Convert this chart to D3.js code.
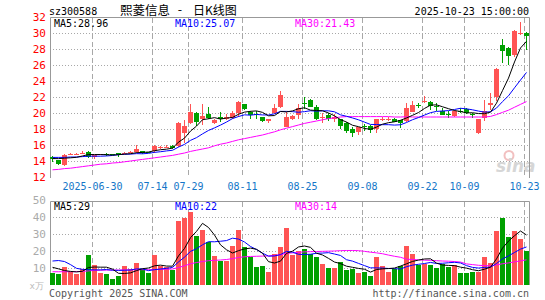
<!DOCTYPE html>
<html lang="zh">
<head>
    <meta charset="UTF-8">
    <title>熙菱信息 - 日K线图</title>
    <script src="https://d3js.org/d3.v7.min.js"></script>
    <style>
        body { margin: 0; background: #fff; }
        svg { display: block; }
        text { font-family: "DejaVu Sans Mono", monospace; font-size: 10px; }
    </style>
</head>
<body>
<div id="chart"></div>
<script>
    // trading days (2025), 07-15..07-21 missing (suspension)
    const dates = ["06-19","06-20","06-23","06-24","06-25","06-26","06-27","06-30","07-01","07-02",
        "07-03","07-04","07-07","07-08","07-09","07-10","07-11","07-14","07-22","07-23",
        "07-24","07-25","07-28","07-29","07-30","07-31","08-01","08-04","08-05","08-06",
        "08-07","08-08","08-11","08-12","08-13","08-14","08-15","08-18","08-19","08-20",
        "08-21","08-22","08-25","08-26","08-27","08-28","08-29","09-01","09-02","09-03",
        "09-04","09-05","09-08","09-09","09-10","09-11","09-12","09-15","09-16","09-17",
        "09-18","09-19","09-22","09-23","09-24","09-25","09-26","09-29","09-30","10-09",
        "10-10","10-13","10-14","10-15","10-16","10-17","10-20","10-21","10-22","10-23"];

    const open = [14.45,14.1,13.5,14.8,14.85,15.0,15.1,14.55,14.8,14.85,
        14.85,14.95,14.95,15.05,15.15,15.2,15.1,15.2,15.65,15.75,
        15.9,15.9,17.45,18.8,20.05,19.2,19.9,18.7,19.45,19.2,
        19.35,19.95,21.1,20.15,19.85,19.45,19.05,19.95,20.7,18.3,
        19.2,19.7,21.25,21.6,20.8,19.4,19.8,19.2,19.3,18.8,
        17.95,17.6,18.4,18.4,17.95,19.2,19.2,19.3,19.1,19.0,
        20.15,21.05,21.4,21.4,20.9,20.3,19.85,19.6,20.3,20.55,
        19.9,17.5,19.4,20.95,21.95,28.45,28.1,27.3,29.95,29.95];
    const high = [14.6,14.15,14.9,14.95,15.0,15.3,15.3,14.75,14.9,15.0,
        14.9,14.95,15.15,15.2,16.0,15.25,15.15,15.95,15.9,16.05,
        15.95,18.85,19.1,21.1,20.1,21.1,20.7,19.3,20.15,19.9,
        20.3,21.5,21.1,20.3,20.25,19.5,19.3,21.1,22.8,20.15,
        19.8,21.1,22.05,21.8,21.0,20.0,19.95,19.9,19.3,18.85,
        18.3,18.3,18.6,18.45,19.3,19.5,19.45,19.35,19.15,21.3,
        21.5,21.3,22.1,21.45,21.2,20.6,20.25,20.35,20.6,20.6,
        20.05,19.3,21.65,22.5,25.6,29.3,28.3,30.35,31.4,30.1];
    const low = [13.9,13.45,13.4,14.7,14.75,14.9,14.35,14.3,14.75,14.65,
        14.7,14.45,14.9,15.0,14.95,14.9,14.95,14.95,15.55,15.65,
        15.5,15.8,16.2,18.6,18.4,18.5,19.3,18.6,18.9,19.1,
        19.3,19.5,20.4,19.2,19.25,18.9,18.8,19.9,20.6,18.2,
        19.1,19.2,20.45,20.7,19.1,18.8,19.0,18.9,17.95,17.55,
        17.05,17.25,17.8,17.55,17.55,18.95,18.95,18.85,18.1,18.9,
        20.1,20.6,21.2,20.4,20.3,19.7,19.4,19.5,19.95,19.9,
        19.4,17.4,18.95,20.4,21.45,26.25,26.05,26.95,29.8,27.9];
    const close = [14.2,13.65,14.7,14.85,14.9,15.05,14.55,14.7,14.85,14.8,
        14.8,14.8,15.05,15.1,15.45,14.95,15.05,15.9,15.7,15.8,
        15.6,18.8,18.4,20.1,18.9,19.6,19.4,19.1,19.2,19.55,
        19.95,21.4,20.45,19.7,19.8,19.05,19.25,20.6,22.25,19.55,
        19.65,20.6,21.2,20.8,19.3,19.5,19.2,19.45,18.4,17.8,
        17.5,18.3,18.35,17.85,19.2,19.3,19.25,18.9,18.8,20.65,
        20.95,21.0,21.45,20.85,20.85,19.75,19.8,20.3,20.25,19.95,
        19.85,19.3,20.2,21.25,25.55,27.7,27.1,30.3,30.0,29.6];

    const ma5 = [14.3,14.3,14.35,14.4,14.46,14.63,14.81,14.81,14.81,14.79,
        14.74,14.79,14.86,14.91,15.04,15.07,15.12,15.29,15.41,15.48,
        15.61,16.36,16.86,17.74,18.36,19.16,19.28,19.42,19.24,19.37,
        19.44,19.84,20.11,20.21,20.26,20.08,19.65,19.68,20.19,20.14,
        20.26,20.53,20.65,20.36,20.31,20.28,20.0,19.65,19.17,18.87,
        18.47,18.29,18.07,17.96,18.24,18.6,18.79,18.9,19.09,19.38,
        19.71,20.06,20.57,20.98,21.02,20.78,20.54,20.31,20.19,20.01,
        20.03,19.93,19.91,20.11,21.23,22.8,24.36,26.38,28.13,28.96];
    const ma10 = [14.45,14.45,14.45,14.5,14.5,14.55,14.6,14.6,14.6,14.63,
        14.69,14.8,14.84,14.86,14.92,14.9,14.96,15.08,15.16,15.26,
        15.34,15.74,16.08,16.58,16.92,17.39,17.82,18.14,18.49,18.87,
        19.3,19.56,19.77,19.73,19.82,19.76,19.75,19.9,20.2,20.2,
        20.17,20.09,20.17,20.28,20.23,20.27,20.27,20.15,19.77,19.59,
        19.38,19.15,18.86,18.57,18.56,18.54,18.54,18.49,18.53,18.81,
        19.16,19.43,19.74,20.04,20.2,20.25,20.3,20.44,20.59,20.52,
        20.4,20.24,20.11,20.15,20.62,21.42,22.15,23.15,24.12,25.07];
    const ma30 = [12.9,12.95,13.05,13.1,13.2,13.3,13.4,13.5,13.6,13.65,
        13.75,13.8,13.9,14.0,14.1,14.2,14.3,14.4,14.5,14.6,
        14.7,14.85,15.0,15.2,15.35,15.5,15.65,15.9,16.1,16.25,
        16.45,16.65,16.8,16.95,17.1,17.25,17.45,17.65,17.9,18.1,
        18.3,18.5,18.7,18.85,19.0,19.15,19.3,19.4,19.5,19.55,
        19.55,19.55,19.55,19.55,19.55,19.55,19.55,19.5,19.5,19.53,
        19.5,19.5,19.5,19.5,19.5,19.5,19.5,19.5,19.5,19.5,
        19.5,19.5,19.5,19.57,19.8,20.08,20.35,20.72,21.08,21.43];

    // volume, 万手
    const volume = [7.3,6.5,10.4,7.8,6.5,9.2,17.6,11.8,7.3,6.5,
        3.5,5.3,11.2,9.2,13.1,9.2,7.3,17.6,11.2,10.4,
        8.8,37.6,39.4,43.1,28.8,32.4,25.5,17.1,14.3,14.3,
        22.9,32.4,22.2,16.7,10.8,11.2,7.8,18.2,22.2,33.7,
        17.6,20.2,21.0,18.2,16.5,12.4,10.2,10.2,13.7,8.8,
        9.2,6.9,7.8,5.3,16.3,11.2,7.8,9.2,11.2,22.9,
        18.2,11.8,12.4,11.8,10.2,12.4,10.8,11.8,7.3,7.3,
        7.8,7.8,16.3,13.1,31.8,39.5,28.5,32.0,27.0,20.0];
    const volMa5 = [10.4,9.5,8.5,8.0,7.7,8.08,10.3,10.58,10.48,10.48,
        9.34,6.88,6.76,7.14,8.46,9.6,10.0,11.28,11.68,11.14,
        11.06,17.12,21.48,27.86,31.54,36.26,33.84,29.38,23.62,20.72,
        18.82,20.2,21.22,21.7,21.0,18.66,13.74,12.94,14.04,18.62,
        19.9,22.38,22.94,22.14,18.7,17.66,15.66,13.5,12.6,11.06,
        10.42,9.76,9.28,7.6,9.1,9.5,9.68,9.96,11.14,12.46,
        13.86,14.66,15.3,15.42,12.88,11.72,11.52,11.4,10.5,9.92,
        9.0,8.4,9.3,10.46,15.36,21.7,25.84,28.98,31.76,29.4];
    const volMa10 = [14.1,14.4,13.8,12.0,9.8,9.2,9.0,8.9,8.9,9.09,
        8.71,8.59,8.67,8.81,9.47,9.47,8.44,9.02,9.41,9.8,
        10.33,13.56,16.38,19.77,21.34,23.66,25.48,25.43,25.74,26.13,
        27.54,27.02,25.3,22.66,20.86,18.74,16.97,17.08,17.87,19.81,
        19.28,18.06,17.94,18.09,18.66,18.78,19.02,18.22,17.37,14.88,
        14.04,12.71,11.39,10.1,10.08,9.96,9.72,9.62,9.37,10.78,
        11.68,12.17,12.63,13.28,12.67,12.79,13.09,13.35,12.96,11.4,
        10.36,9.96,10.35,10.48,12.64,15.35,17.12,19.14,21.11,22.38];
    const volMa30 = [7.8,7.8,7.8,7.8,7.9,8.0,8.3,8.6,8.7,8.8,
        8.8,8.8,8.9,8.9,9.0,9.0,9.0,9.1,9.2,9.3,
        9.4,10.3,11.3,12.5,13.2,13.8,14.3,14.5,14.7,15.0,
        15.5,16.2,16.6,16.8,16.9,17.0,17.1,17.4,17.8,18.6,
        18.9,19.2,19.5,19.6,19.7,19.8,19.9,20.0,20.2,20.3,
        20.3,20.2,19.8,19.3,18.9,18.4,17.6,16.9,16.3,15.2,
        15.0,14.8,14.6,14.5,14.3,14.1,14.0,13.8,13.5,12.4,
        12.0,11.6,11.4,11.3,11.8,12.5,13.0,13.6,14.2,14.8];

    const tickDates = ["06-30","07-14","07-29","08-11","08-25","09-08","09-22","10-09","10-23"];
    const tickLabels = ["2025-06-30","07-14","07-29","08-11","08-25","09-08","09-22","10-09","10-23"];
    const priceTicks = [12,14,16,18,20,22,24,26,28,30,32];
    const volTicks = [10,20,30,40,50];

    const width = 545, height = 300;
    const left = 50, right = 530;
    const RED = "#ff5454", GREEN = "#00a000", GRID = "#a8a8a8", BORDER = "#999";
    const CJK = "'Noto Sans CJK SC', sans-serif";

    const svg = d3.select("#chart").append("svg")
        .attr("width", width)
        .attr("height", height);

    const x = d3.scaleBand()
        .domain(dates)
        .range([left - 0.5, right - 0.5])
        .paddingInner(1 / 6)
        .paddingOuter(1 / 12);
    const cx = d => x(d) + 2.5;

    const yP = d3.scaleLinear().domain([12, 32]).range([177, 17]);
    const yV = d3.scaleLinear().domain([0, 50]).range([285, 200]);

    // headers
    svg.append("text").attr("x", 49).attr("y", 15).text("sz300588");
    svg.append("text").attr("x", 120).attr("y", 15)
        .style("font-family", CJK).style("font-size", "12.5px")
        .text("熙菱信息");
    svg.append("text").attr("x", 180).attr("y", 14).attr("text-anchor", "middle")
        .style("font-family", CJK).style("font-size", "12.5px")
        .text("-");
    svg.append("text").attr("x", 193).attr("y", 15)
        .style("font-family", CJK).style("font-size", "12px")
        .text("日K线图");
    svg.append("text").attr("x", 529).attr("y", 15).attr("text-anchor", "end").text("2025-10-23 15:00:00");

    // watermark
    const wm = svg.append("g");
    wm.append("circle").attr("cx", 509).attr("cy", 155.5).attr("r", 4.5)
        .attr("fill", "none").attr("stroke", "#f2c0c0").attr("stroke-width", 2);
    wm.append("text").attr("x", 496).attr("y", 171.5)
        .style("font-family", "'DejaVu Sans', sans-serif").style("font-size", "17px")
        .style("font-weight", "bold").style("font-style", "italic")
        .attr("fill", "#d6d6d6").text("sina");

    // grid
    svg.append("g").selectAll("line")
        .data(priceTicks.filter(v => v > 12 && v < 32))
        .enter().append("line")
        .attr("x1", left).attr("x2", right)
        .attr("y1", d => Math.round(yP(d)) + 0.5).attr("y2", d => Math.round(yP(d)) + 0.5)
        .attr("stroke", GRID).attr("stroke-dasharray", "1,2");

    svg.append("g").selectAll("line")
        .data(volTicks.filter(v => v < 50))
        .enter().append("line")
        .attr("x1", left).attr("x2", right)
        .attr("y1", d => Math.round(yV(d)) + 0.5).attr("y2", d => Math.round(yV(d)) + 0.5)
        .attr("stroke", GRID).attr("stroke-dasharray", "1,2");

    const vgrid = svg.append("g");
    tickDates.forEach(d => {
        vgrid.append("line").attr("x1", x(d) + 0.5).attr("x2", x(d) + 0.5)
            .attr("y1", 18).attr("y2", 178)
            .attr("stroke", GRID).attr("stroke-dasharray", "5,3");
        vgrid.append("line").attr("x1", x(d) + 0.5).attr("x2", x(d) + 0.5)
            .attr("y1", 202).attr("y2", 285)
            .attr("stroke", GRID).attr("stroke-dasharray", "5,3");
    });

    // frames
    const frame = svg.append("g").attr("stroke", BORDER).attr("fill", "none");
    frame.append("path").attr("d", `M${left + 0.5},178V17.5H${right - 0.5}V178`);
    frame.append("path").attr("d", `M${left + 0.5},285V201.5H${right - 0.5}V285`);

    // axis labels
    svg.append("g").selectAll("text")
        .data(priceTicks)
        .enter().append("text")
        .attr("x", 46).attr("y", d => yP(d) + 4)
        .attr("text-anchor", "end").attr("fill", "#f00")
        .style("font-size", "11px")
        .text(d => d);

    svg.append("g").selectAll("text")
        .data(volTicks)
        .enter().append("text")
        .attr("x", 46).attr("y", d => yV(d) + 4)
        .attr("text-anchor", "end").attr("fill", "#aaa")
        .style("font-size", "11px")
        .text(d => d);
    svg.append("text").attr("x", 44).attr("y", 289).attr("text-anchor", "end")
        .attr("fill", "#bbb").style("font-size", "9px").text("x万");

    svg.append("g").selectAll("text")
        .data(tickDates)
        .enter().append("text")
        .attr("x", d => x(d) + 0.5).attr("y", 190)
        .attr("text-anchor", "middle").attr("fill", "#1476c8")
        .text((d, i) => tickLabels[i]);

    // candles
    const idx = d3.range(dates.length);
    const colorOf = i => close[i] >= open[i] ? RED : GREEN;

    const candles = svg.append("g").attr("shape-rendering", "crispEdges");
    candles.selectAll("line")
        .data(idx)
        .enter().append("line")
        .attr("x1", i => cx(dates[i])).attr("x2", i => cx(dates[i]))
        .attr("y1", i => yP(high[i])).attr("y2", i => yP(low[i]))
        .attr("stroke", colorOf);
    candles.selectAll("rect")
        .data(idx)
        .enter().append("rect")
        .attr("x", i => x(dates[i]))
        .attr("width", x.bandwidth())
        .attr("y", i => yP(Math.max(open[i], close[i])))
        .attr("height", i => Math.max(1, Math.abs(yP(open[i]) - yP(close[i]))))
        .attr("fill", colorOf);

    // volume bars
    svg.append("g").attr("shape-rendering", "crispEdges")
        .selectAll("rect")
        .data(idx)
        .enter().append("rect")
        .attr("x", i => x(dates[i]))
        .attr("width", x.bandwidth())
        .attr("y", i => yV(volume[i]))
        .attr("height", i => yV(0) - yV(volume[i]))
        .attr("fill", colorOf);

    // moving averages
    const priceLine = d3.line().x((d, i) => cx(dates[i])).y(d => yP(d));
    const volLine = d3.line().x((d, i) => cx(dates[i])).y(d => yV(d));
    [[ma30, "#f0f"], [ma10, "#00f"], [ma5, "#000"]].forEach(([s, c]) => {
        svg.append("path").attr("d", priceLine(s)).attr("fill", "none").attr("stroke", c);
    });
    [[volMa30, "#f0f"], [volMa10, "#00f"], [volMa5, "#000"]].forEach(([s, c]) => {
        svg.append("path").attr("d", volLine(s)).attr("fill", "none").attr("stroke", c);
    });

    // legends
    svg.append("text").attr("x", 54).attr("y", 27).text("MA5:28.96");
    svg.append("text").attr("x", 175).attr("y", 27).attr("fill", "#00f").text("MA10:25.07");
    svg.append("text").attr("x", 295).attr("y", 27).attr("fill", "#f0f").text("MA30:21.43");
    svg.append("text").attr("x", 54).attr("y", 210).text("MA5:29");
    svg.append("text").attr("x", 175).attr("y", 210).attr("fill", "#00f").text("MA10:22");
    svg.append("text").attr("x", 295).attr("y", 210).attr("fill", "#f0f").text("MA30:14");

    // footer
    svg.append("text").attr("x", 49).attr("y", 297).attr("fill", "#555").text("Copyright 2025 SINA.COM");
    svg.append("text").attr("x", 529).attr("y", 297).attr("text-anchor", "end").attr("fill", "#555")
        .text("http://finance.sina.com.cn");
</script>
</body>
</html>
